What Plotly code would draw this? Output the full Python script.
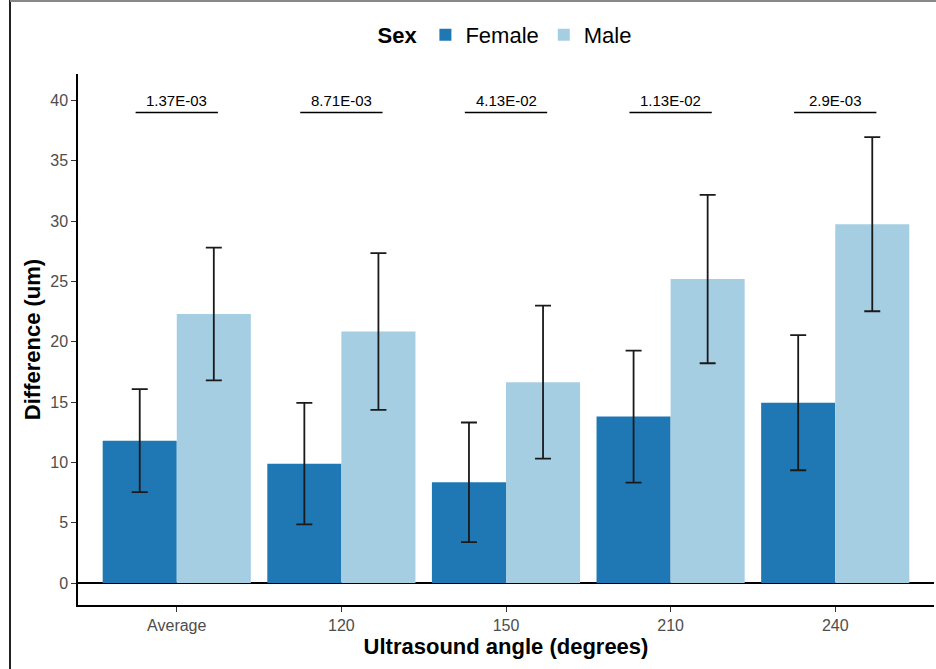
import plotly.graph_objects as go

# Mean difference by ultrasound angle and sex, with error bar half-widths
angles = ["Average", "120", "150", "210", "240"]
female_mean = [11.8, 9.9, 8.35, 13.8, 14.95]
female_err = [4.27, 5.04, 4.96, 5.47, 5.6]
male_mean = [22.3, 20.85, 16.65, 25.2, 29.75]
male_err = [5.5, 6.5, 6.34, 6.98, 7.22]

# Comparison p-values drawn above each angle group
p_values = ["1.37E-03", "8.71E-03", "4.13E-02", "1.13E-02", "2.9E-03"]
bracket_level = 39.0

FEMALE_COLOR = "#1f78b4"
MALE_COLOR = "#a6cee3"
FONT = "Liberation Sans, Arial, sans-serif"

W, H = 936, 669
L, R, T, B = 78, 2, 74, 64

fig = go.Figure()
err_style = dict(type="data", thickness=1.8, width=8, color="#1a1a1a")
fig.add_trace(go.Bar(
    name="Female", x=angles, y=female_mean, marker_color=FEMALE_COLOR,
    marker_line_width=0, error_y=dict(array=female_err, **err_style),
))
fig.add_trace(go.Bar(
    name="Male", x=angles, y=male_mean, marker_color=MALE_COLOR,
    marker_line_width=0, error_y=dict(array=male_err, **err_style),
))

shapes = []
annotations = []
for i, p in enumerate(p_values):
    shapes.append(dict(type="line", xref="x", yref="y",
                       x0=i - 0.25, x1=i + 0.25, y0=bracket_level, y1=bracket_level,
                       line=dict(color="black", width=1.5)))
    annotations.append(dict(x=i, y=bracket_level, xref="x", yref="y", text=p,
                            showarrow=False, yanchor="bottom", yshift=2,
                            font=dict(family=FONT, size=15, color="black")))

# Outer frame edges
pw = W - L - R
ph = H - T - B
shapes.append(dict(type="line", xref="paper", yref="paper",
                   x0=(10 - L) / pw, x1=(10 - L) / pw,
                   y0=-(B) / ph, y1=(T + 0) / ph + 1,
                   line=dict(color="#222222", width=2)))
shapes.append(dict(type="line", xref="paper", yref="paper",
                   x0=(10 - L) / pw, x1=1 + R / pw,
                   y0=1 + (T - 1) / ph, y1=1 + (T - 1) / ph,
                   line=dict(color="#888888", width=2)))

fig.update_layout(
    width=W, height=H,
    margin=dict(l=L, r=R, t=T, b=B, pad=0),
    paper_bgcolor="white", plot_bgcolor="white",
    barmode="group", bargap=0.1, bargroupgap=0,
    font=dict(family=FONT, color="#4d4d4d"),
    shapes=shapes, annotations=annotations,
    legend=dict(
        orientation="h", xref="paper", yref="container",
        x=0.5, xanchor="center", y=1 - 35 / H, yanchor="middle",
        title=dict(text="<b>Sex</b>", font=dict(size=22, color="black", family=FONT)),
        font=dict(size=22, color="black", family=FONT),
        itemwidth=30, traceorder="normal",
    ),
    xaxis=dict(
        type="category", range=[-0.6, 4.6],
        showline=True, linecolor="black", linewidth=1.5,
        ticks="outside", ticklen=5, tickcolor="#333333", tickwidth=1.2,
        tickfont=dict(size=16, color="#4d4d4d"),
        title=dict(text="<b>Ultrasound angle (degrees)</b>", standoff=4,
                   font=dict(size=22, color="black", family=FONT)),
        showgrid=False,
    ),
    yaxis=dict(
        range=[-1.82, 42.2], tickvals=[0, 5, 10, 15, 20, 25, 30, 35, 40],
        showline=True, linecolor="black", linewidth=1.5,
        ticks="outside", ticklen=5, tickcolor="#333333", tickwidth=1.2,
        tickfont=dict(size=16, color="#4d4d4d"),
        zeroline=True, zerolinecolor="black", zerolinewidth=1.5,
        title=dict(text="<b>Difference (um)</b>", standoff=4,
                   font=dict(size=22, color="black", family=FONT)),
        showgrid=False,
    ),
)

fig.write_html("out.html")
